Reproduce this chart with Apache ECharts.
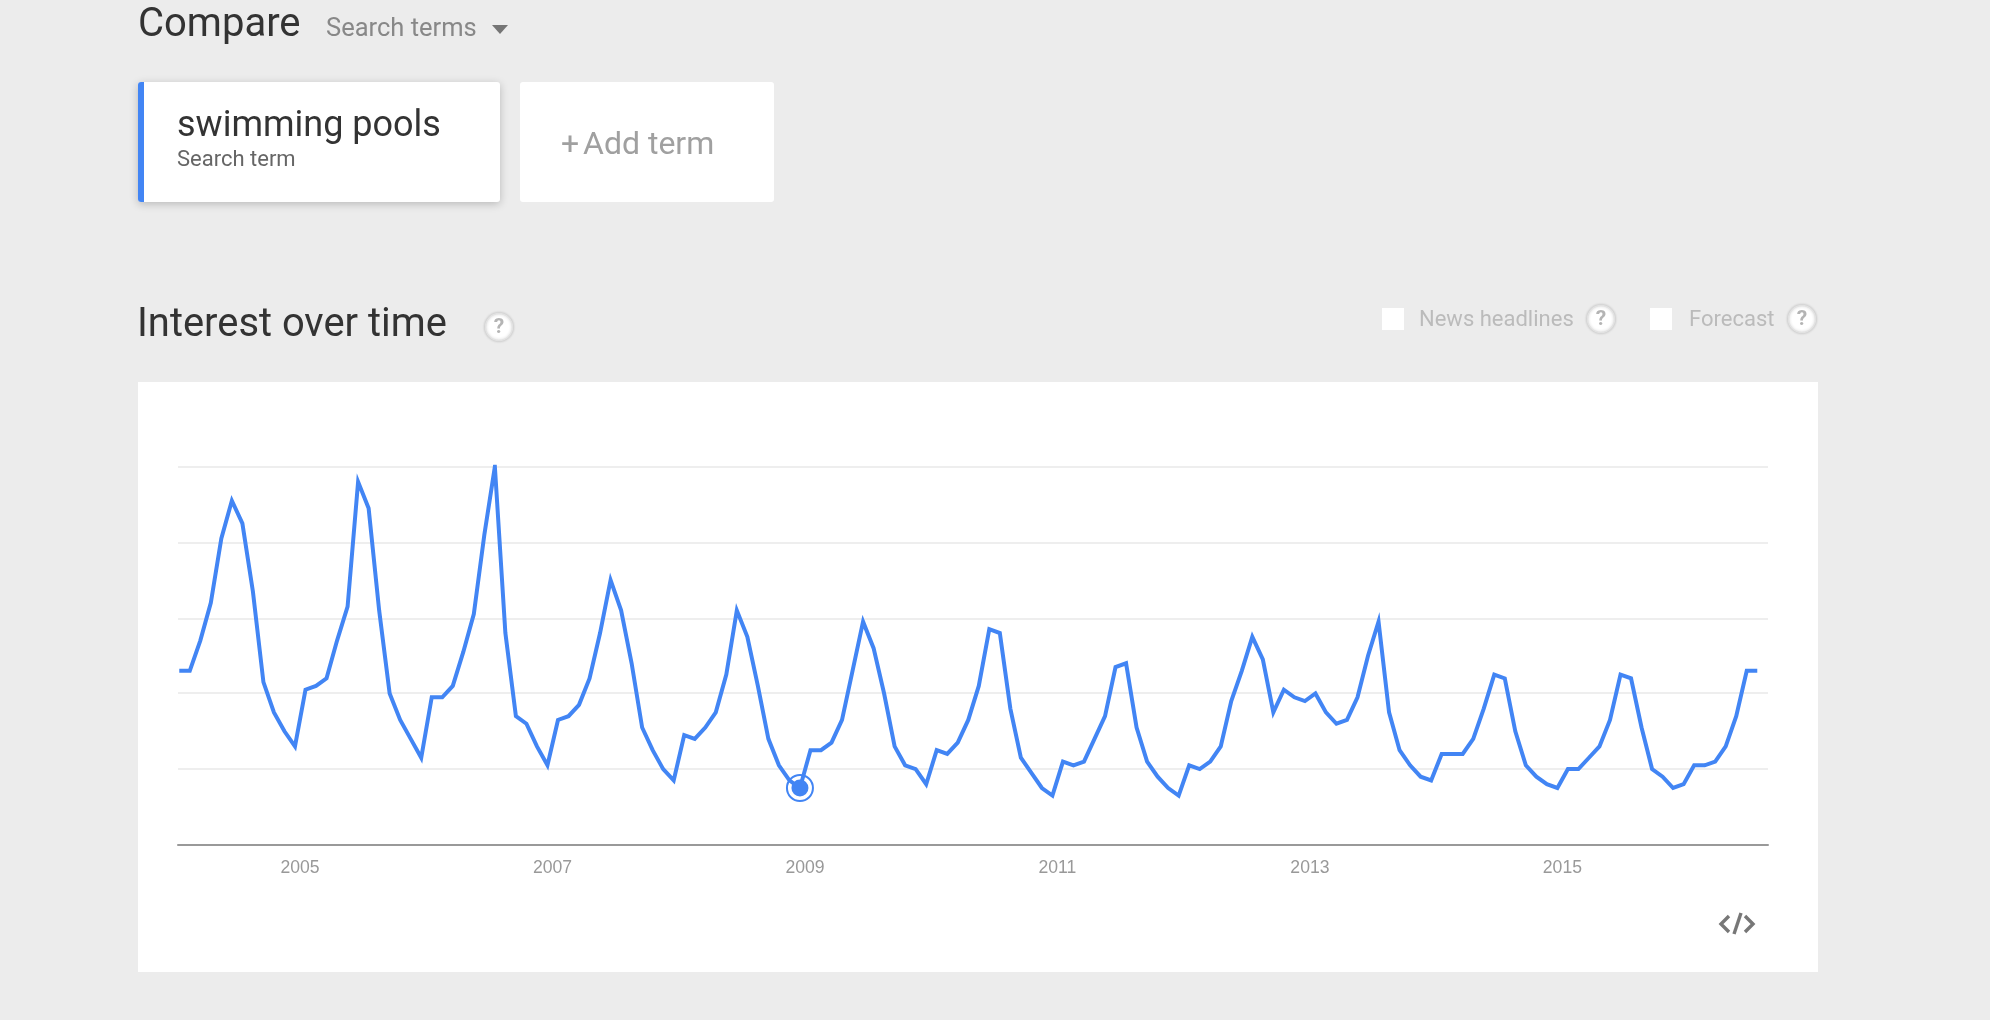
<!DOCTYPE html>
<html><head><meta charset="utf-8">
<style>html,body{margin:0;padding:0;background:#ececec}#c{width:1990px;height:1020px}</style>
<script src="https://cdn.jsdelivr.net/npm/echarts@6/dist/echarts.min.js"></script>
</head><body><div id="c"></div>
<script>
const startYear = 2004;
const interestValues = [46,46,54,64,81,91,85,67,43,35,30,26,
41,42,44,54,63,96,89,62,40,33,28,23,
39,39,42,51,61,82,100,56,34,32,26,21,
33,34,37,44,56,70,62,48,31,25,20,17,
29,28,31,35,45,62,55,42,28,21,17,15,
25,25,27,33,46,59,52,40,26,21,20,16,
25,24,27,33,42,57,56,36,23,19,15,13,
22,21,22,28,34,47,48,31,22,18,15,13,
21,20,22,26,38,46,55,49,35,41,39,38,
40,35,32,33,39,50,59,35,25,21,18,17,
24,24,24,28,36,45,44,30,21,18,16,15,
20,20,23,26,33,45,44,31,20,18,15,16,
21,21,22,26,34,46,46];
const yearLabels = [2005,2007,2009,2011,2013,2015];
const gridValues = [0,20,40.2,59.8,80,100];
const hoverIndex = 59;

const points = interestValues.map((v,i)=>[startYear+i/12, v]);
const hoverPoint = [points[hoverIndex]];
const BLUE='#4285f4';
const font='Roboto';

function txt(x,baseline,text,size,fill,weight){
  return {type:'text',silent:true,style:{x,y:baseline-size*0.72,text,fontSize:size,fontFamily:font,fontWeight:weight||400,fill,align:'left',verticalAlign:'top'}};
}
function help(cx,cy){
  return [
   {type:'circle',silent:true,shape:{cx,cy,r:13.5},style:{fill:'#fff',stroke:'#e2e2e2',lineWidth:1.5,shadowBlur:3,shadowColor:'rgba(0,0,0,0.2)'}},
   {type:'text',silent:true,style:{x:cx,y:cy+1,text:'?',fontSize:21,fontFamily:font,fontWeight:700,fill:'#b4b4b4',align:'center',verticalAlign:'middle'}}
  ];
}
const chrome=[
 {type:'rect',silent:true,z:-10,shape:{x:138,y:382,width:1680,height:590},style:{fill:'#fff'}},
 txt(138,35,'Compare',40,'#333',400),
 txt(326,35,'Search terms',25.5,'#888',400),
 {type:'polygon',silent:true,shape:{points:[[492,25],[508,25],[500,34]]},style:{fill:'#757575'}},
 {type:'rect',silent:true,shape:{x:138,y:82,width:362,height:120,r:3},style:{fill:'#fff',shadowBlur:8,shadowColor:'rgba(0,0,0,0.22)',shadowOffsetY:2}},
 {type:'rect',silent:true,shape:{x:138,y:82,width:6,height:120,r:[3,0,0,3]},style:{fill:BLUE}},
 txt(177,135,'swimming pools',36,'#333',400),
 txt(177,165,'Search term',22,'#666',400),
 {type:'rect',silent:true,shape:{x:520,y:82,width:254,height:120,r:3},style:{fill:'#fff'}},
 txt(561,153,'+',32,'#a0a0a0',400),
 txt(583,153,'Add term',32,'#a0a0a0',400),
 txt(137,335,'Interest over time',39.9,'#333',400),
 ...help(499,327),
 {type:'rect',silent:true,shape:{x:1382,y:308,width:22,height:22},style:{fill:'#fff'}},
 txt(1419,325,'News headlines',22,'#bbb',400),
 ...help(1601,319),
 {type:'rect',silent:true,shape:{x:1650,y:308,width:22,height:22},style:{fill:'#fff'}},
 txt(1689,325,'Forecast',22,'#bbb',400),
 ...help(1802,319),
 {type:'polyline',silent:true,shape:{points:[[1729,916],[1721,924],[1729,932]]},style:{stroke:'#777',lineWidth:3.4,fill:null}},
 {type:'polyline',silent:true,shape:{points:[[1745,916],[1753,924],[1745,932]]},style:{stroke:'#777',lineWidth:3.4,fill:null}},
 {type:'polyline',silent:true,shape:{points:[[1741,913],[1734,934]]},style:{stroke:'#777',lineWidth:3.4,fill:null}}
];

const chart=echarts.init(document.getElementById('c'),null,{renderer:'canvas',width:1990,height:1020});
chart.setOption({
 animation:false,
 backgroundColor:'#ececec',
 grid:{left:178,right:222,top:466.7,bottom:175.3,containLabel:false},
 xAxis:{type:'value',min:2003.99,max:2016.585,
   axisLine:{show:true,onZero:false,lineStyle:{color:'#999',width:2}},
   axisTick:{show:false},splitLine:{show:false},
   axisLabel:{show:true,customValues:yearLabels,formatter:v=>String(v),color:'#999',fontSize:17.6,fontFamily:'Liberation Sans',margin:14,padding:[0,11,0,0],hideOverlap:false,showMinLabel:true,showMaxLabel:true}},
 yAxis:{type:'value',min:0,max:100,
   axisLine:{show:false},axisTick:{show:false,customValues:gridValues},axisLabel:{show:false},
   splitLine:{show:true,lineStyle:{color:'#eee',width:2}}},
 series:[
  {type:'line',data:points,symbol:'none',smooth:false,silent:true,
   lineStyle:{color:BLUE,width:4,join:'miter',miterLimit:10,cap:'butt'},z:3},
  {type:'scatter',data:hoverPoint,symbol:'circle',symbolSize:17,silent:true,itemStyle:{color:BLUE,opacity:1},z:5},
  {type:'scatter',data:hoverPoint,symbol:'circle',symbolSize:26,silent:true,itemStyle:{color:'rgba(0,0,0,0)',borderColor:BLUE,borderWidth:2,opacity:1},z:5}
 ],
 graphic:{elements:chrome}
});
</script></body></html>
